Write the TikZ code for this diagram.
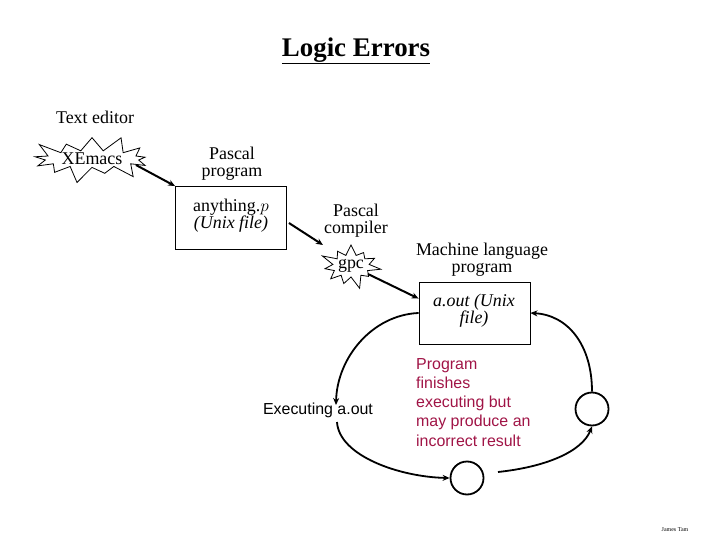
\documentclass[tikz,border=0pt]{standalone}
\usepackage{fontspec}
\setmainfont{Liberation Serif}
\newfontfamily\arialf{Liberation Sans}
\usetikzlibrary{shapes.symbols,arrows.meta,calc}
\definecolor{redtxt}{RGB}{160,20,70}
\tikzset{
  lbl/.style={font=\fontsize{18}{17}\selectfont, align=center, inner sep=0pt},
  burst/.style={starburst, draw, line width=0.8bp, fill=white, inner sep=0pt, font=\fontsize{18}{18}\selectfont},
  filebox/.style={draw, line width=0.9bp, inner sep=0pt},
  flow/.style={line width=2bp, -{Stealth[length=7bp,width=6bp]}},
  loop/.style={line width=1.8bp, -{Stealth[length=7bp,width=6bp]}},
  ring/.style={circle, draw, line width=1.8bp, minimum size=33bp, inner sep=0pt},
}
\begin{document}
\begin{tikzpicture}[x=1bp,y=-1bp]
\useasboundingbox (0,0) rectangle (720,540);
% title
\node[inner sep=0pt, font=\fontsize{27}{27}\selectfont\bfseries] (title) at (356,51) {\underline{Logic Errors}};
% editor
\node[lbl] (ted) at (95,117) {Text editor};
\node[burst, starburst points=13, starburst point height=18bp, minimum width=130bp, minimum height=46bp] (xe) at (92,159) {XEmacs};
% pascal program
\node[lbl] (pp) at (232,164) {Pascal\\program};
\node[filebox, minimum width=111bp, minimum height=63bp] (b1) at (231,218) {};
\node[lbl] (b1t) at (231,216) {anything.$p$\\\textit{(Unix file)}};
% compiler
\node[lbl] (pc) at (356,221) {Pascal\\compiler};
\node[burst, starburst points=11, starburst point height=14bp, minimum width=60bp, minimum height=50bp] (gpc) at (351,266) {gpc};
% machine language
\node[lbl] (ml) at (482,260) {Machine language\\program};
\node[filebox, minimum width=111bp, minimum height=62bp] (b2) at (474.5,313) {};
\node[lbl] (b2t) at (474,311) {\textit{a.out (Unix}\\\textit{file)}};
% flow arrows
\draw[flow] (xe.east) ++(-6,6) coordinate (xs) -- (b1.north west);
\draw[flow] (b1.east) ++(2,5) coordinate (bs) -- (323,245) coordinate (ge);
\draw[flow] (gpc.east) ++(-6,8) coordinate (gs) -- ($(b2.north west)+(0,17)$);
% executing
\node[inner sep=0pt, font=\arialf\fontsize{16}{16}\selectfont] (ex) at (318,410) {Executing a.out};
\node[inner sep=0pt, align=left, anchor=north west, text=redtxt, font=\arialf\fontsize{16}{19.3}\selectfont] (msg) at (416,358) {Program\\finishes\\executing but\\may produce an\\incorrect result};
% rings
\node[ring] (c1) at (467,478) {};
\node[ring] (c2) at (592,409) {};
\coordinate (a1) at (336,405);
\coordinate (a2) at (337,422);
\coordinate (a3) at (498,472);
\draw[loop] (b2.west) .. controls (372,315) and (337,358) .. (a1);
\draw[loop] (a2) .. controls (339,456) and (400,477) .. (c1.west);
\draw[loop] (a3) .. controls (545,467) and (582,452) .. (c2.south);
\draw[loop] (c2.north) .. controls (592,345) and (568,315) .. (b2.east);
% signature
\node[inner sep=0pt, font=\fontsize{6}{6}\selectfont] (sig) at (675,530) {James Tam};
\end{tikzpicture}
\end{document}
